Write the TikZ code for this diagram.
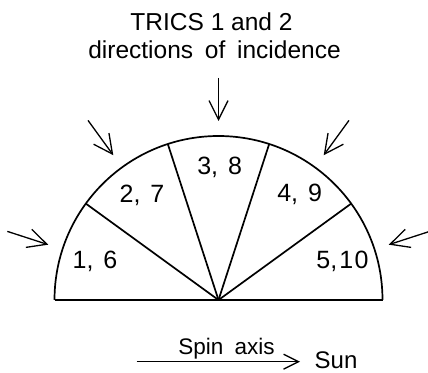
\documentclass[tikz,border=0pt]{standalone}
\usepackage{fontspec}
\setmainfont{Liberation Sans}
\usetikzlibrary{arrows.meta,calc}
\begin{document}
\begin{tikzpicture}[x=1pt,y=1pt,
  outline/.style={line width=1.7pt},
  incid/.style={line width=1.3pt,-{Straight Barb[length=19pt,width=19pt,line width=1.3pt]}},
  spinarrow/.style={line width=1.3pt,-{Straight Barb[length=15pt,width=15pt,line width=1.3pt]}},
  lbl/.style={font=\fontsize{25}{29}\selectfont,inner sep=0pt,anchor=base},
  title/.style={font=\fontsize{24.5}{28}\selectfont,inner sep=0pt,anchor=base}]
\useasboundingbox (0,0) rectangle (428,372);
\coordinate (O) at (218.5,72);
% semicircle
\draw[outline] ($(O)+(-164,0)$) coordinate (L) arc[start angle=180,end angle=0,radius=164] coordinate (R);
\draw[outline] (54.5,72) coordinate (BL) -- (383,72) coordinate (BR);
% sector lines
\foreach \a/\n in {36/s1,72/s2,108/s3,144/s4}{
  \coordinate (\n) at ($(O)+(\a:164)$);
  \draw[outline] (O) -- (\n);
}
% labels
\node[lbl] (l1) at (95,103.7) {1,\hspace{10pt}6};
\node[lbl] (l2) at (142,169) {2,\hspace{10pt}7};
\node[lbl] (l3) at (219.7,197.7) {3,\hspace{10pt}8};
\node[lbl] (l4) at (299.7,170.3) {4,\hspace{10pt}9};
\node[lbl] (l5) at (342.5,103.7) {5,\hspace{2pt}1\kern1.5pt0};
% incidence arrows
\foreach \a/\n in {18/a1,54/a2,90/a3,126/a4,162/a5}{
  \coordinate (\n t) at ($(O)+(\a:222)$);
  \coordinate (\n h) at ($(O)+(\a:179)$);
  \draw[incid] (\n t) -- (\n h);
}
% title
\node[title] (t1) at (211.5,341.3) {TRICS 1 and 2};
\node[title] (t2) at (214.5,313.7) {directions\hspace{5pt} of\hspace{5pt} incidence};
% spin axis
\coordinate (sp1) at (136.7,10.3);
\coordinate (sp2) at (300,10.3);
\draw[spinarrow] (sp1) -- (sp2);
\node[font=\fontsize{22.5}{26}\selectfont,inner sep=0pt,anchor=base] (spin) at (226.5,18) {Spin\hspace{5pt} axis};
\node[font=\fontsize{24}{28}\selectfont,inner sep=0pt,anchor=base west] (sun) at (314.5,4) {Sun};
\end{tikzpicture}
\end{document}
